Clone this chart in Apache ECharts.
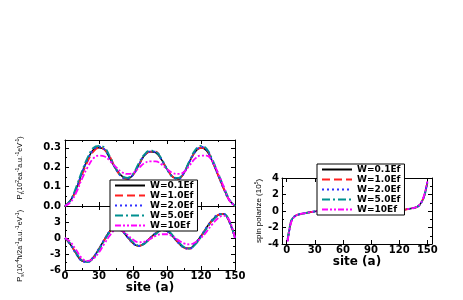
<!DOCTYPE html>
<html><head><meta charset="utf-8">
<script src="https://cdn.jsdelivr.net/npm/echarts@6/dist/echarts.min.js"></script>
<style>html,body{margin:0;padding:0;background:#fff}#c{width:463px;height:300px}</style>
</head><body><div id="c"></div>
<script>
// ---- data ----
const seriesNames = ['W=0.1Ef','W=1.0Ef','W=2.0Ef','W=5.0Ef','W=10Ef'];
const sites = [0,5,10,15,20,25,30,35,40,45,50,55,60,65,70,75,80,85,90,95,100,105,110,115,120,125,130,135,140,145,150];
// P_t (top panel)
const pt_01 = [0,0.03,0.09,0.17,0.24,0.29,0.30,0.29,0.24,0.19,0.155,0.14,0.16,0.21,0.26,0.28,0.275,0.24,0.19,0.15,0.14,0.17,0.23,0.28,0.30,0.285,0.23,0.16,0.09,0.03,0];
const pt_10 = [0,0.03,0.08,0.16,0.23,0.28,0.30,0.29,0.25,0.19,0.15,0.14,0.16,0.21,0.26,0.28,0.28,0.24,0.19,0.15,0.14,0.17,0.23,0.28,0.30,0.29,0.23,0.16,0.09,0.03,0];
const pt_20 = [0,0.03,0.09,0.17,0.24,0.29,0.305,0.29,0.24,0.19,0.15,0.14,0.16,0.21,0.26,0.28,0.28,0.24,0.19,0.15,0.14,0.17,0.23,0.28,0.305,0.29,0.23,0.16,0.09,0.03,0];
const pt_50 = [0,0.03,0.10,0.18,0.25,0.30,0.31,0.30,0.25,0.19,0.155,0.145,0.165,0.22,0.265,0.285,0.28,0.245,0.19,0.15,0.145,0.175,0.235,0.29,0.31,0.295,0.24,0.17,0.10,0.035,0];
const pt_100 = [0,0.02,0.07,0.14,0.20,0.245,0.26,0.255,0.23,0.20,0.175,0.165,0.17,0.195,0.22,0.23,0.23,0.215,0.19,0.17,0.165,0.175,0.21,0.245,0.26,0.26,0.23,0.17,0.10,0.03,0];
// P_s (bottom panel)
const ps_01 = [0,-1.3,-3.0,-4.3,-4.4,-3.6,-2.0,-0.2,1.4,2.0,1.4,0.2,-1.0,-1.5,-1.0,0,0.9,1.5,1.3,0.3,-0.9,-1.8,-1.9,-1.0,0.4,2.0,3.4,4.3,4.5,3.0,0];
const ps_10 = [0,-1.2,-2.9,-4.2,-4.5,-3.7,-2.1,-0.3,1.3,2.0,1.5,0.3,-0.9,-1.5,-1.1,-0.1,0.8,1.5,1.4,0.4,-0.8,-1.8,-2.0,-1.1,0.3,1.9,3.3,4.3,4.5,3.1,0];
const ps_20 = [0,-1.3,-3.0,-4.3,-4.5,-3.6,-2.0,-0.2,1.4,2.0,1.4,0.2,-1.0,-1.5,-1.0,0,0.9,1.5,1.3,0.3,-0.9,-1.8,-2.0,-1.0,0.4,2.0,3.4,4.4,4.5,3.0,0];
const ps_50 = [0,-1.1,-2.8,-4.2,-4.5,-3.8,-2.2,-0.4,1.2,1.9,1.5,0.4,-0.8,-1.4,-1.1,-0.2,0.7,1.4,1.4,0.5,-0.7,-1.7,-2.0,-1.2,0.2,1.8,3.2,4.2,4.5,3.2,0];
const ps_100 = [0,-0.8,-2.3,-3.8,-4.3,-3.9,-2.7,-1.0,0.6,1.5,1.4,0.6,-0.3,-0.8,-0.7,-0.2,0.4,0.7,0.7,0.3,-0.4,-1.0,-1.2,-0.8,0.0,1.2,2.6,3.7,4.2,3.3,0];
// spin polarize (right panel)
const sitesR = [1,3,5,8,12,20,30,40,45,50,60,70,75,80,90,100,105,110,120,130,138,142,146,148,150];
const sp_01 = [-3.6,-2.2,-1.2,-0.7,-0.45,-0.25,-0.05,0.05,0.08,0.05,-0.03,-0.08,-0.05,-0.02,0.0,-0.05,-0.08,-0.05,0.05,0.25,0.45,0.75,1.6,2.4,3.5];
const sp_10 = [-3.5,-2.1,-1.2,-0.7,-0.45,-0.25,-0.05,0.05,0.08,0.05,-0.03,-0.08,-0.05,-0.02,0.0,-0.05,-0.08,-0.05,0.05,0.25,0.45,0.75,1.6,2.4,3.4];
const sp_20 = [-3.6,-2.2,-1.2,-0.7,-0.45,-0.25,-0.05,0.05,0.08,0.05,-0.03,-0.08,-0.05,-0.02,0.0,-0.05,-0.08,-0.05,0.05,0.25,0.45,0.75,1.6,2.4,3.5];
const sp_50 = [-3.4,-2.1,-1.1,-0.7,-0.45,-0.25,-0.05,0.05,0.08,0.05,-0.03,-0.08,-0.05,-0.02,0.0,-0.05,-0.08,-0.05,0.05,0.25,0.45,0.75,1.6,2.3,3.3];
const sp_100 = [-3.7,-2.3,-1.3,-0.75,-0.45,-0.25,-0.05,0.05,0.08,0.05,-0.03,-0.08,-0.05,-0.02,0.0,-0.05,-0.08,-0.05,0.05,0.25,0.45,0.8,1.7,2.5,3.6];
const xTicks = [0,30,60,90,120,150];

// ---- styles ----
const colors = ['#000000','#ff2020','#3030ff','#009090','#ff00ff'];
const dashes = ['solid',[8,4],[2,3],[8,3,2,3],[6,2,2,2,2,2]];
const widths = [1.5,1.8,2,1.8,1.8];
const FONT = 'DejaVu Sans';
const NFONT = 'Liberation Sans Narrow, Liberation Sans, Arial';

function pairs(xs, ys){ return xs.map((x,i)=>[x, ys[i]]); }
function mkSeries(xs, arrs, xi, yi){
  return arrs.map((a,k)=>({
    type:'line', name:seriesNames[k], xAxisIndex:xi, yAxisIndex:yi,
    data:pairs(xs,a), smooth:0.4, showSymbol:false, symbol:'none',
    lineStyle:{color:colors[k], width:widths[k], type:dashes[k], cap:'butt'},
    itemStyle:{color:colors[k]}, z:2+k, animation:false
  }));
}
const lab = {fontFamily:FONT, fontWeight:'bold', fontSize:10, color:'#000'};
function baseAxis(o){
  return Object.assign({
    type:'value', axisLine:{show:true, onZero:false, lineStyle:{color:'#000', width:1}},
    axisTick:{show:true, inside:true, length:4, lineStyle:{color:'#000'}},
    minorTick:{show:true, splitNumber:2, length:2, lineStyle:{color:'#000'}},
    splitLine:{show:false}, minorSplitLine:{show:false},
    axisLabel:{show:false}
  }, o);
}
const xName = {fontFamily:FONT, fontWeight:'bold', fontSize:12, color:'#000'};

const xAxes = [
  baseAxis({gridIndex:0, position:'bottom', min:0, max:150, interval:30}),
  baseAxis({gridIndex:0, position:'top', min:0, max:150, interval:30}),
  baseAxis({gridIndex:1, position:'bottom', min:0, max:150, interval:30,
    axisLabel:Object.assign({show:true, margin:1}, lab),
    name:'site (a)', nameLocation:'middle', nameGap:7, nameTextStyle:xName}),
  baseAxis({gridIndex:1, position:'top', min:0, max:150, interval:30}),
  baseAxis({gridIndex:2, position:'bottom', min:-5, max:155,
    minorTick:{show:false},
    axisTick:{show:true, inside:true, length:4, customValues:xTicks, lineStyle:{color:'#000'}},
    axisLabel:Object.assign({show:true, margin:1, customValues:xTicks}, lab),
    name:'site (a)', nameLocation:'middle', nameGap:6, nameTextStyle:xName}),
  baseAxis({gridIndex:2, position:'top', min:-5, max:155, minorTick:{show:false},
    axisTick:{show:true, inside:true, length:4, customValues:xTicks, lineStyle:{color:'#000'}}})
];
const richY = {
  a:{fontFamily:NFONT, fontSize:7, color:'#000', lineHeight:10},
  p:{fontFamily:NFONT, fontSize:8, color:'#000', lineHeight:10},
  s:{fontFamily:NFONT, fontSize:8, color:'#000', lineHeight:10},
  u:{fontFamily:NFONT, fontSize:5, color:'#000', lineHeight:10, verticalAlign:'top', padding:[0,0,3,0]},
  d:{fontFamily:NFONT, fontSize:5, color:'#000', lineHeight:10, verticalAlign:'bottom'}
};
function yName(pad){ return {fontFamily:NFONT, fontSize:7, color:'#000', lineHeight:10, padding:pad, rich:richY}; }
const yAxes = [
  baseAxis({gridIndex:0, position:'left', min:0, max:0.34, interval:0.1,
    axisLabel:Object.assign({show:true, margin:4, showMaxLabel:false, formatter:v=>v.toFixed(1)}, lab),
    name:'{p|P}{d|t}{a|(10}{u|2}{a|ea}{u|-1}{a|a.u.}{u|-1}{a|eV}{u|-1}{a|)}', nameLocation:'middle', nameGap:40, nameRotate:90, nameTextStyle:yName([0,0,0,10])}),
  baseAxis({gridIndex:0, position:'right', min:0, max:0.34, interval:0.1}),
  baseAxis({gridIndex:1, position:'left', min:-6, max:6, interval:3,
    axisLabel:Object.assign({show:true, margin:4, showMaxLabel:false}, lab),
    name:'{p|P}{d|s}{a|(10}{u|-4}{a|ħ/2a}{u|-1}{a|a.u.}{u|-1}{a|eV}{u|-1}{a|)}', nameLocation:'middle', nameGap:40, nameRotate:90, nameTextStyle:yName([0,16,0,0])}),
  baseAxis({gridIndex:1, position:'right', min:-6, max:6, interval:3}),
  baseAxis({gridIndex:2, position:'left', min:-4, max:4, interval:2,
    axisLabel:Object.assign({show:true, margin:3}, lab),
    name:'{s|spin polarize (10}{u|5}{s|)}', nameLocation:'middle', nameGap:17, nameRotate:90, nameTextStyle:yName([0,0,0,0])}),
  baseAxis({gridIndex:2, position:'right', min:-4, max:4, interval:2})
];

const legendCommon = {
  data:seriesNames, orient:'vertical', backgroundColor:'#fff', borderColor:'#000', borderWidth:1,
  borderRadius:0, itemWidth:30, itemHeight:7.5, itemGap:1, padding:[1,4,1,4],
  itemStyle:{color:'rgba(0,0,0,0)', borderWidth:0, opacity:0},
  textStyle:{fontFamily:FONT, fontWeight:'bold', fontSize:9, color:'#000', lineHeight:8},
  selectedMode:false, z:20
};

const chart = echarts.init(document.getElementById('c'), null, {renderer:'canvas'});
chart.setOption({
  animation:false,
  backgroundColor:'#fff',
  grid:[
    {left:65, top:140, width:170, height:66},
    {left:65, top:206, width:170, height:64},
    {left:282, top:178, width:150, height:66}
  ],
  xAxis:xAxes,
  yAxis:yAxes,
  legend:[
    Object.assign({left:110, top:180}, legendCommon),
    Object.assign({left:317, top:164, itemHeight:7}, legendCommon)
  ],
  series:[].concat(
    mkSeries(sites,[pt_01,pt_10,pt_20,pt_50,pt_100],0,0),
    mkSeries(sites,[ps_01,ps_10,ps_20,ps_50,ps_100],2,2),
    mkSeries(sitesR,[sp_01,sp_10,sp_20,sp_50,sp_100],4,4)
  )
});
</script></body></html>
